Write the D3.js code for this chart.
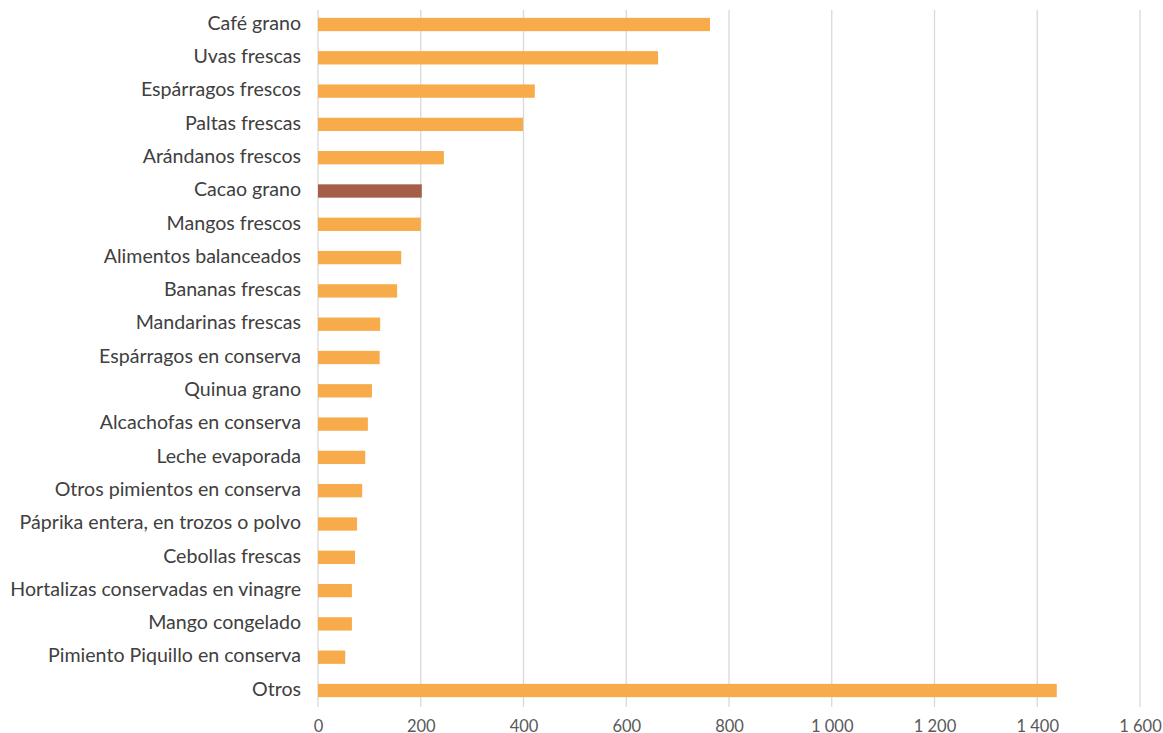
<!DOCTYPE html>
<html>
<head>
<meta charset="utf-8">
<script src="https://cdn.jsdelivr.net/npm/d3@7"></script>
<style>
  html, body { margin: 0; padding: 0; background: #fff; }
  svg text { font-family: Lato, "Open Sans", sans-serif; }
</style>
</head>
<body>
<svg id="grafico"></svg>
<script>
const ancho = 1163;
const alto = 733;

const productos = [
  "Café grano", "Uvas frescas", "Espárragos frescos", "Paltas frescas",
  "Arándanos frescos", "Cacao grano", "Mangos frescos", "Alimentos balanceados",
  "Bananas frescas", "Mandarinas frescas", "Espárragos en conserva", "Quinua grano",
  "Alcachofas en conserva", "Leche evaporada", "Otros pimientos en conserva",
  "Páprika entera, en trozos o polvo", "Cebollas frescas",
  "Hortalizas conservadas en vinagre", "Mango congelado",
  "Pimiento Piquillo en conserva", "Otros"
];
const valores = [763, 662, 422, 399, 245, 202, 200, 162, 154, 121, 120, 105, 97, 92, 86, 76, 72, 66, 66, 53, 1438];
const resaltado = ["Cacao grano"];
const ticks = [0, 200, 400, 600, 800, 1000, 1200, 1400, 1600];

const datos = productos.map((p, i) => ({ nombre: p, valor: valores[i] }));

const svg = d3.select("#grafico").attr("width", ancho).attr("height", alto);

const x = d3.scaleLinear().domain([0, 1600]).range([318, 1140]);
const y = d3.scaleBand()
  .domain(productos)
  .range([7.85, 707.15])
  .paddingInner(0.6)
  .paddingOuter(0.3);

// rejilla vertical
svg.append("g")
  .selectAll("line")
  .data(ticks)
  .join("line")
  .attr("x1", d => x(d))
  .attr("x2", d => x(d))
  .attr("y1", 10)
  .attr("y2", 707)
  .attr("stroke", "#d9d9d9")
  .attr("stroke-width", 1.3);

// barras
svg.append("g")
  .selectAll("rect")
  .data(datos)
  .join("rect")
  .attr("x", x(0))
  .attr("y", d => y(d.nombre))
  .attr("width", d => x(d.valor) - x(0))
  .attr("height", y.bandwidth())
  .attr("fill", d => resaltado.includes(d.nombre) ? "#a55e47" : "#f7ab4a");

// etiquetas de categorías
const ejeY = svg.append("g")
  .attr("transform", "translate(301,-1)")
  .call(d3.axisLeft(y).tickSize(0).tickPadding(0));
ejeY.select(".domain").remove();
ejeY.selectAll("text")
  .attr("font-size", 19.6)
  .attr("fill", "#404040")
  .style("font-family", "Lato, 'Open Sans', sans-serif");

// eje x
const formato = d => d3.format(",")(d).replace(/,/g, " ");
const ejeX = svg.append("g")
  .attr("transform", "translate(0,712)")
  .call(d3.axisBottom(x).tickValues(ticks).tickFormat(formato).tickSize(0).tickPadding(8));
ejeX.select(".domain").remove();
ejeX.selectAll("text")
  .attr("font-size", 16.5)
  .attr("fill", "#595959")
  .style("font-family", "Lato, 'Open Sans', sans-serif");
</script>
</body>
</html>
